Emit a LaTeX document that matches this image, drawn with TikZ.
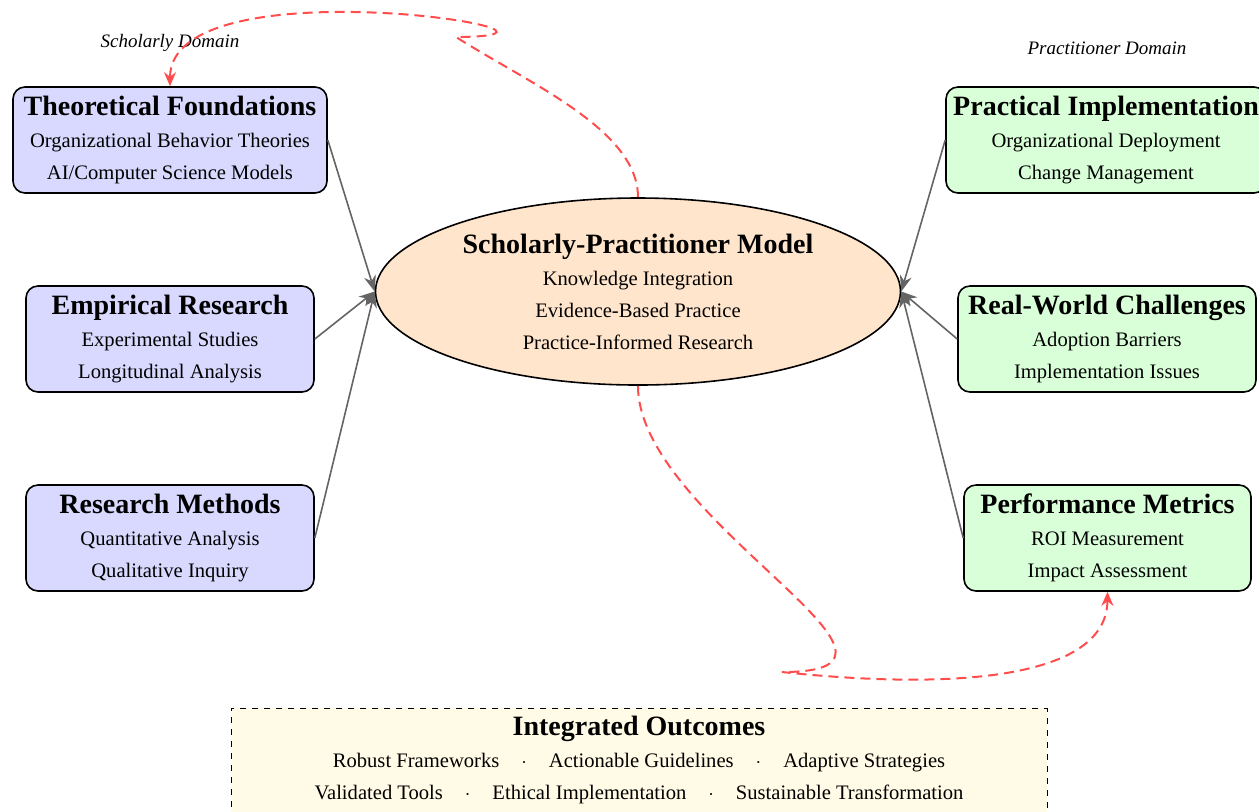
\documentclass[tikz,border=0pt]{standalone}
\usepackage{fontspec}
\setmainfont{Liberation Serif}
\usetikzlibrary{arrows.meta,shapes.geometric}
\definecolor{boxblue}{RGB}{217,217,255}
\definecolor{boxgreen}{RGB}{217,255,217}
\definecolor{peach}{RGB}{255,229,204}
\definecolor{cream}{RGB}{255,251,230}
\definecolor{flowred}{RGB}{255,77,77}
\definecolor{arrowgray}{RGB}{100,100,100}
\tikzset{
  x=0.5pt, y=-0.5pt,
  card/.style={draw=black, thick, rounded corners=6pt, align=center, inner xsep=2pt, inner ysep=0pt,
    minimum height=53pt, font=\fontsize{10.3}{16}\selectfont},
  scholar/.style={card, fill=boxblue},
  practice/.style={card, fill=boxgreen},
  hub/.style={ellipse, draw=black, thick, fill=peach, align=center, inner sep=0pt,
    minimum width=262.5pt, minimum height=93.5pt, font=\fontsize{10.3}{16}\selectfont},
  outcome/.style={draw=black, thin, dashed, fill=cream, align=center, inner sep=4pt,
    minimum width=408pt, font=\fontsize{10.3}{16}\selectfont},
  domainlabel/.style={font=\fontsize{9.5}{11}\selectfont\itshape},
  feed/.style={draw=arrowgray, thick, -{Stealth[length=8pt,width=6pt]}},
  loopflow/.style={draw=flowred, line width=1pt, dash pattern=on 5pt off 3pt, -{Stealth[length=7pt,width=6pt]}},
}
\newcommand{\ttl}[1]{{\fontsize{14}{16}\selectfont\bfseries #1}}
\newcommand{\sep}{\hspace{11pt}$\cdot$\hspace{11pt}}
\begin{document}
\begin{tikzpicture}
\useasboundingbox (0,0) rectangle (1259,811);

\node[domainlabel] (schl) at (170,43) {Scholarly Domain};
\node[domainlabel] (prd) at (1107,48) {Practitioner Domain};

\node[scholar, minimum width=157pt] (theo) at (170,140)
  {\ttl{Theoretical Foundations}\\Organizational Behavior Theories\\AI/Computer Science Models};
\node[scholar, minimum width=144pt] (emp) at (170,339)
  {\ttl{Empirical Research}\\Experimental Studies\\Longitudinal Analysis};
\node[scholar, minimum width=144pt] (meth) at (170,538)
  {\ttl{Research Methods}\\Quantitative Analysis\\Qualitative Inquiry};

\node[practice, minimum width=160pt] (prac) at (1106,140)
  {\ttl{Practical Implementation}\\Organizational Deployment\\Change Management};
\node[practice, minimum width=149pt] (real) at (1107,339)
  {\ttl{Real-World Challenges}\\Adoption Barriers\\Implementation Issues};
\node[practice, minimum width=143.5pt] (perf) at (1107.5,538)
  {\ttl{Performance Metrics}\\ROI Measurement\\Impact Assessment};

\node[hub] (model) at (638,291.5)
  {\ttl{Scholarly-Practitioner Model}\\Knowledge Integration\\Evidence-Based Practice\\Practice-Informed Research};

\node[outcome, anchor=north] (out) at (639,708)
  {\ttl{Integrated Outcomes}\\
   Robust Frameworks\sep Actionable Guidelines\sep Adaptive Strategies\\
   Validated Tools\sep Ethical Implementation\sep Sustainable Transformation\\[2pt]};

\draw[feed] (theo.east) -- (model.west);
\draw[feed] (emp.east) -- (model.west);
\draw[feed] (meth.east) -- (model.west);
\draw[feed] (prac.west) -- (model.east);
\draw[feed] (real.west) -- (model.east);
\draw[feed] (perf.west) -- (model.east);

\coordinate (k1) at (456,37);
\coordinate (k2) at (782,672);
\draw[loopflow] (model.north) .. controls (638,130) and (530,84) .. (k1)
  .. controls (634,36) and (170,-40) .. (theo.north);
\draw[loopflow] (model.south) .. controls (638,520) and (960,672) .. (k2)
  .. controls (950,690) and (1107,680) .. (perf.south);
\end{tikzpicture}
\end{document}
